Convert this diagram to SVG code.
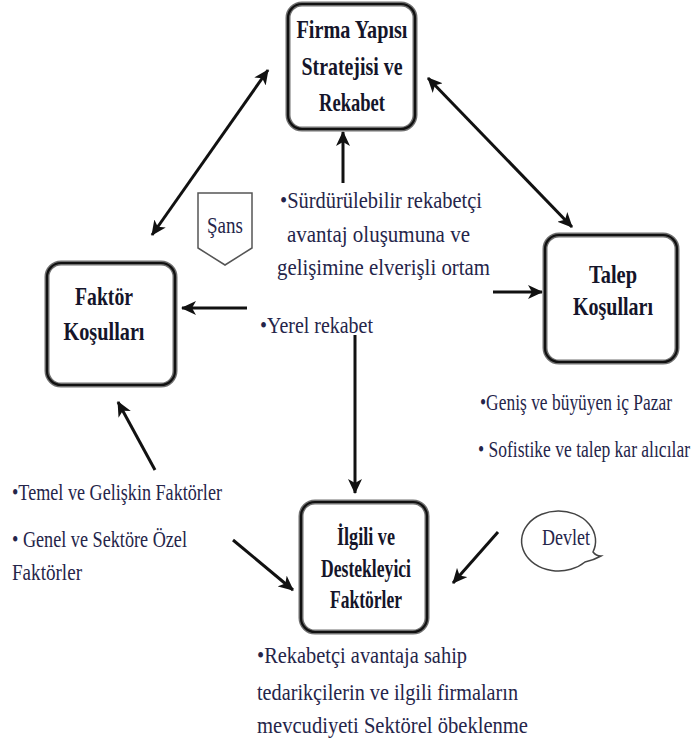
<svg xmlns="http://www.w3.org/2000/svg" width="698" height="747" viewBox="0 0 698 747">
<style>
.bx-o{fill:#fff;stroke:#707070;stroke-width:5}
.bx-i{fill:none;stroke:#111;stroke-width:2.2}
.nt{font-weight:bold;font-size:25px;fill:#15152a;text-anchor:middle}
.bt{font-size:23px;fill:#25254a}
.bs{font-size:17px;fill:#25254a}
.ar{stroke:#111;stroke-width:3;fill:none}
</style>
<defs>
<marker id="ah" markerUnits="userSpaceOnUse" markerWidth="16" markerHeight="14" refX="14" refY="7" orient="auto-start-reverse">
<path d="M0,0 L15,7 L0,14 L4,7 z" fill="#111"/>
</marker>
</defs>
<rect width="698" height="747" fill="#fff"/>

<g id="connectors">
<line class="ar" x1="152" y1="235" x2="268" y2="70" marker-start="url(#ah)" marker-end="url(#ah)"/>
<line class="ar" x1="428" y1="78" x2="572" y2="227" marker-start="url(#ah)" marker-end="url(#ah)"/>
<line class="ar" x1="343" y1="183" x2="343" y2="132" marker-end="url(#ah)"/>
<line class="ar" x1="247" y1="308" x2="182" y2="308" marker-end="url(#ah)"/>
<line class="ar" x1="493" y1="292" x2="542" y2="292" marker-end="url(#ah)"/>
<line class="ar" x1="355" y1="335" x2="355" y2="493" marker-end="url(#ah)"/>
<line class="ar" x1="155" y1="470" x2="118" y2="402" marker-end="url(#ah)"/>
<line class="ar" x1="233" y1="540" x2="293" y2="590" marker-end="url(#ah)"/>
<line class="ar" x1="498" y1="532" x2="453" y2="583" marker-end="url(#ah)"/>
</g>

<g font-family="Liberation Serif, serif">
<g id="firma">
<rect class="bx-o" x="288" y="4" width="127" height="125" rx="14"/>
<rect class="bx-i" x="288" y="4" width="127" height="125" rx="14"/>
<text class="nt" x="352" y="38" textLength="111" lengthAdjust="spacingAndGlyphs">Firma Yapısı</text>
<text class="nt" x="352" y="75" textLength="101" lengthAdjust="spacingAndGlyphs">Stratejisi ve</text>
<text class="nt" x="352" y="111" textLength="66" lengthAdjust="spacingAndGlyphs">Rekabet</text>
</g>

<g id="faktor">
<rect class="bx-o" x="47" y="263" width="128" height="122" rx="14"/>
<rect class="bx-i" x="47" y="263" width="128" height="122" rx="14"/>
<text class="nt" x="104" y="305" textLength="58" lengthAdjust="spacingAndGlyphs">Faktör</text>
<text class="nt" x="104" y="340" textLength="81" lengthAdjust="spacingAndGlyphs">Koşulları</text>
</g>

<g id="talep">
<rect class="bx-o" x="545" y="235" width="132" height="127" rx="14"/>
<rect class="bx-i" x="545" y="235" width="132" height="127" rx="14"/>
<text class="nt" x="613" y="283" textLength="48" lengthAdjust="spacingAndGlyphs">Talep</text>
<text class="nt" x="613" y="315" textLength="80" lengthAdjust="spacingAndGlyphs">Koşulları</text>
</g>

<g id="ilgili">
<rect class="bx-o" x="301" y="502" width="126" height="130" rx="14"/>
<rect class="bx-i" x="301" y="502" width="126" height="130" rx="14"/>
<text class="nt" x="366" y="545" textLength="58" lengthAdjust="spacingAndGlyphs">İlgili ve</text>
<text class="nt" x="366" y="577" textLength="90" lengthAdjust="spacingAndGlyphs">Destekleyici</text>
<text class="nt" x="366" y="608" textLength="72" lengthAdjust="spacingAndGlyphs">Faktörler</text>
</g>

<g id="sans">
<path d="M198,193 L252,193 L252,248 L225,265 L198,248 Z" fill="#fff" stroke="#555" stroke-width="1.5"/>
<text class="bt" x="225" y="233" text-anchor="middle" textLength="36" lengthAdjust="spacingAndGlyphs">Şans</text>
</g>

<g id="devlet">
<path d="M593,552 A37,30 0 1 0 585,562 Q594,560 601,556 Q596,556 593,552 Z" fill="#fff" stroke="#444" stroke-width="1.5"/>
<text class="bt" x="566" y="545" text-anchor="middle" textLength="48" lengthAdjust="spacingAndGlyphs">Devlet</text>
</g>

<g id="texts">
<text class="bt" x="280" y="208" textLength="202" lengthAdjust="spacingAndGlyphs">•Sürdürülebilir rekabetçi</text>
<text class="bt" x="287" y="242" textLength="183" lengthAdjust="spacingAndGlyphs">avantaj oluşumuna ve</text>
<text class="bt" x="277" y="275" textLength="213" lengthAdjust="spacingAndGlyphs">gelişimine elverişli ortam</text>
<text class="bt" x="260" y="333" textLength="113" lengthAdjust="spacingAndGlyphs">•Yerel rekabet</text>
<text class="bs" transform="translate(480,410) scale(1,1.35)" textLength="192" lengthAdjust="spacingAndGlyphs">•Geniş ve büyüyen iç Pazar</text>
<text class="bs" transform="translate(478,457) scale(1,1.35)" textLength="212" lengthAdjust="spacingAndGlyphs">• Sofistike ve talep kar alıcılar</text>
<text class="bt" x="12" y="500" textLength="210" lengthAdjust="spacingAndGlyphs">•Temel ve Gelişkin Faktörler</text>
<text class="bt" x="12" y="547" textLength="175" lengthAdjust="spacingAndGlyphs">• Genel ve Sektöre Özel</text>
<text class="bt" x="12" y="580" textLength="70" lengthAdjust="spacingAndGlyphs">Faktörler</text>
<text class="bt" x="257" y="663" textLength="210" lengthAdjust="spacingAndGlyphs">•Rekabetçi avantaja sahip</text>
<text class="bt" x="257" y="700" textLength="261" lengthAdjust="spacingAndGlyphs">tedarikçilerin ve ilgili firmaların</text>
<text class="bt" x="257" y="733" textLength="271" lengthAdjust="spacingAndGlyphs">mevcudiyeti  Sektörel öbeklenme</text>
</g>
</g>
</svg>
